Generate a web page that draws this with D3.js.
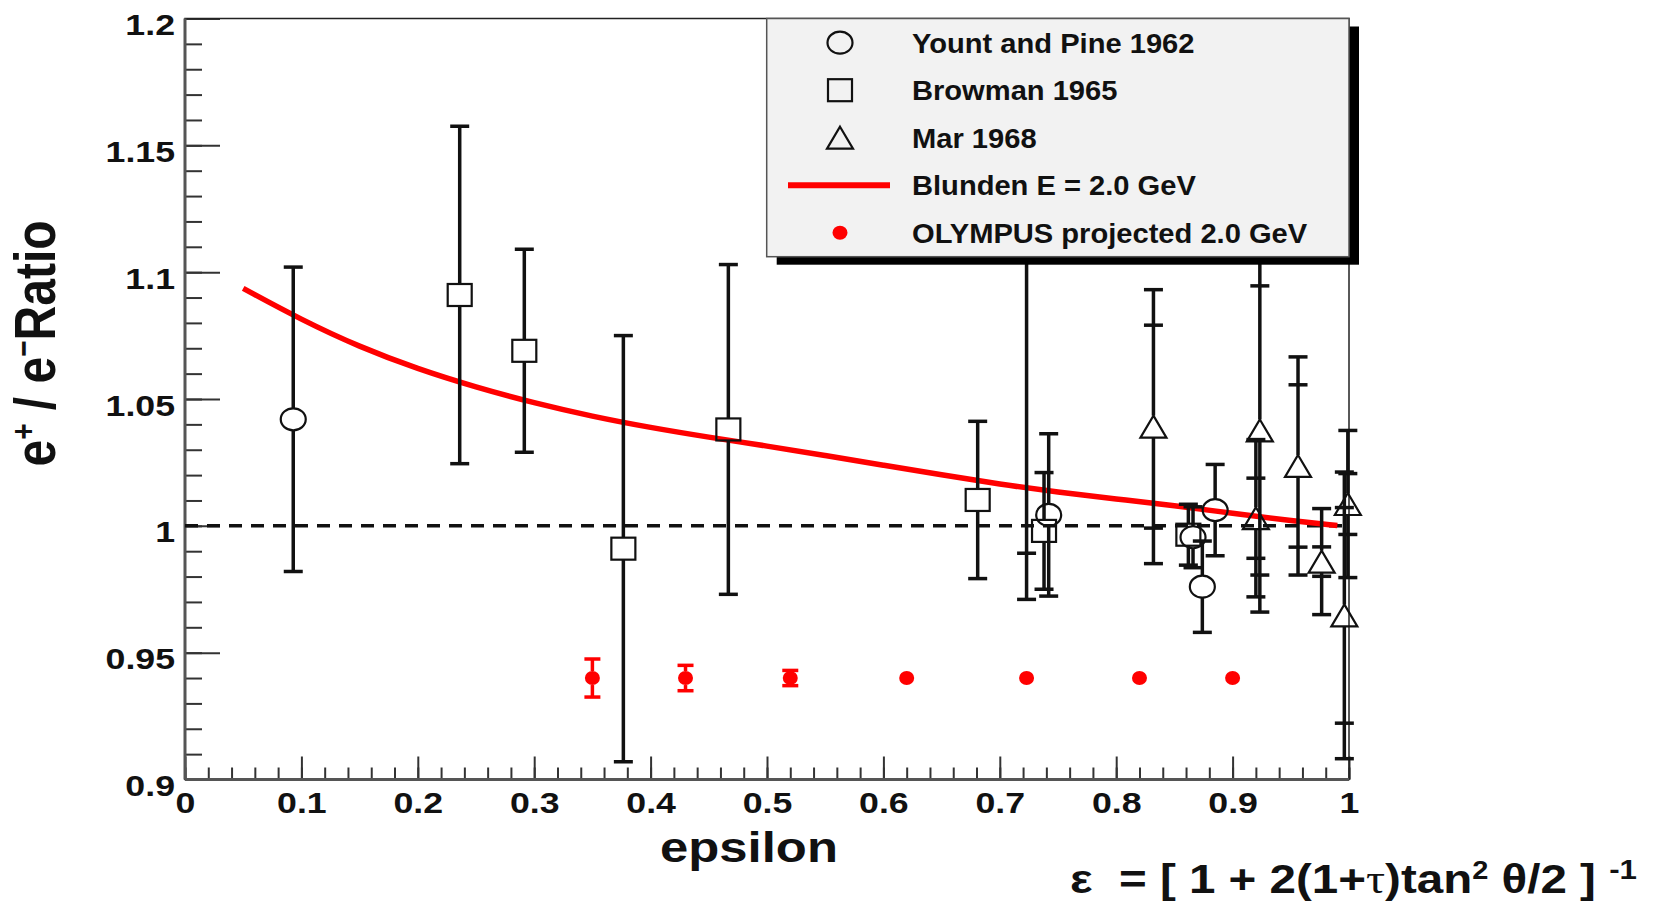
<!DOCTYPE html>
<html>
<head>
<meta charset="utf-8">
<script src="https://cdn.jsdelivr.net/npm/d3@7"></script>
<style>
  body { margin: 0; background: #fff; }
  text { font-family: "Liberation Sans", Arial, Helvetica, sans-serif; font-weight: bold; fill: #111; }
</style>
</head>
<body>
<div id="chart"></div>
<script>
// Yount and Pine 1962 (open circles)
const yountEps = [0.093, 0.742, 0.866, 0.874, 0.885];
const yountVal = [1.042, 1.0043, 0.9955, 0.976, 1.0062];
const yountErr = [0.060, 0.032, 0.012, 0.018, 0.018];

// Browman 1965 (open squares)
const browmanEps = [0.236, 0.2915, 0.3766, 0.4668, 0.681, 0.738, 0.862];
const browmanVal = [1.091, 1.069, 0.991, 1.038, 1.0102, 0.998, 0.9965];
const browmanErr = [0.0665, 0.040, 0.084, 0.065, 0.031, 0.023, 0.012];

// Mar 1968 (open triangles), inner (stat) and outer (total) errors
const marEps = [0.723, 0.832, 0.9234, 0.920, 0.9562, 0.9765, 0.999, 0.996];
const marVal = [1.22, 1.0391, 1.0376, 1.003, 1.0236, 0.9859, 1.0086, 0.9647];
const marErrIn = [0.2308, 0.040, 0.057, 0.0158, 0.032, 0.0058, 0.012, 0.0425];
const marErrOut = [0.249, 0.054, 0.0716, 0.031, 0.043, 0.0209, 0.029, 0.0565];

// Blunden E = 2.0 GeV curve
const blundenEps = [0.05, 0.1, 0.15, 0.2, 0.25, 0.3, 0.35, 0.4, 0.45, 0.5, 0.55, 0.6, 0.65, 0.7, 0.75, 0.8, 0.85, 0.9, 0.95, 0.99];
const blundenVal = [1.0936, 1.0812, 1.0705, 1.0618, 1.0546, 1.0484, 1.0431, 1.0387, 1.0349, 1.0315, 1.0277, 1.0239, 1.0201, 1.0164, 1.0133, 1.0106, 1.008, 1.0049, 1.002, 1.0001];

// OLYMPUS projected 2.0 GeV
const olympusEps = [0.35, 0.43, 0.52, 0.62, 0.723, 0.82, 0.90];
const olympusVal = [0.94, 0.94, 0.94, 0.94, 0.94, 0.94, 0.94];
const olympusErr = [0.0075, 0.005, 0.003, 0.002, 0.002, 0.002, 0.002];

// Ticks and labels
const yMajorTicks = [0.9, 0.95, 1.0, 1.05, 1.1, 1.15, 1.2];
const yMinorTicks = d3.range(0, 31).map(i => 0.9 + i * 0.01);
const xMajorTicks = [0, 0.1, 0.2, 0.3, 0.4, 0.5, 0.6, 0.7, 0.8, 0.9, 1.0];
const xMinorTicks = d3.range(0, 51).map(i => i * 0.02);
const legendLabels = ["Yount and Pine 1962", "Browman 1965", "Mar 1968", "Blunden E = 2.0 GeV", "OLYMPUS projected 2.0 GeV"];

const W = 1658, H = 902;
const margin = { top: 18.5, right: 309, bottom: 122.5, left: 185 };
const width = W - margin.left - margin.right;
const height = H - margin.top - margin.bottom;
const SX = 1.19; // the figure is stretched horizontally

const svg = d3.select("#chart").append("svg")
    .attr("width", W)
    .attr("height", H);

const chart = svg.append("g")
    .attr("transform", `translate(${margin.left},${margin.top})`);

const x = d3.scaleLinear().domain([0, 1]).range([0, width]);
const y = d3.scaleLinear().domain([0.9, 1.2]).range([height, 0]);

svg.append("defs").append("clipPath").attr("id", "clip")
    .append("rect")
    .attr("x", -30).attr("y", 0)
    .attr("width", width + 60).attr("height", height);

// Y axis: minor then major ticks (pointing inward)
chart.append("g")
    .call(d3.axisLeft(y).tickValues(yMinorTicks).tickSize(-17).tickFormat(""))
    .call(g => g.select(".domain").remove())
    .selectAll("line").attr("stroke", "#333").attr("stroke-width", 2);

const yAxis = chart.append("g")
    .call(d3.axisLeft(y).tickValues(yMajorTicks).tickSize(-35).tickPadding(10)
        .tickFormat(d => String(+d.toFixed(2))));
yAxis.select(".domain").remove();
yAxis.selectAll("line").attr("stroke", "#333").attr("stroke-width", 2);
yAxis.selectAll("text")
    .attr("x", -10 / SX)
    .attr("dy", null)
    .attr("y", 16)
    .attr("transform", `scale(${SX},1)`)
    .style("font-size", "30px")
    .style("font-family", "'Liberation Sans', Arial, sans-serif")
    .style("font-weight", "bold")
    .attr("fill", "#111");

// X axis
chart.append("g")
    .attr("transform", `translate(0,${height})`)
    .call(d3.axisBottom(x).tickValues(xMinorTicks).tickSize(-12).tickFormat(""))
    .call(g => g.select(".domain").remove())
    .selectAll("line").attr("stroke", "#333").attr("stroke-width", 2);

const xAxis = chart.append("g")
    .attr("transform", `translate(0,${height})`)
    .call(d3.axisBottom(x).tickValues(xMajorTicks).tickSize(-23)
        .tickFormat(d => String(+d.toFixed(1))));
xAxis.select(".domain").remove();
xAxis.selectAll("line").attr("stroke", "#333").attr("stroke-width", 2);
xAxis.selectAll("text")
    .attr("y", 34)
    .attr("dy", null)
    .attr("transform", `scale(${SX},1)`)
    .style("font-size", "30px")
    .style("font-family", "'Liberation Sans', Arial, sans-serif")
    .style("font-weight", "bold")
    .attr("fill", "#111");

// Frame
chart.append("rect")
    .attr("width", width).attr("height", height)
    .attr("fill", "none").attr("stroke", "#222").attr("stroke-width", 1.5);
chart.append("line")
    .attr("x1", 0).attr("x2", 0).attr("y1", 0).attr("y2", height)
    .attr("stroke", "#555").attr("stroke-width", 3);
chart.append("line")
    .attr("x1", 0).attr("x2", width).attr("y1", height).attr("y2", height)
    .attr("stroke", "#555").attr("stroke-width", 3);

const plot = chart.append("g").attr("clip-path", "url(#clip)");

// Dashed reference line at 1
plot.append("line")
    .attr("x1", x(0)).attr("x2", x(1))
    .attr("y1", y(1)).attr("y2", y(1))
    .attr("stroke", "#111").attr("stroke-width", 3.5)
    .attr("stroke-dasharray", "13,9");

// Blunden curve
const blunden = blundenEps.map((e, i) => [e, blundenVal[i]]);
plot.append("path")
    .datum(blunden)
    .attr("fill", "none")
    .attr("stroke", "#ff0000")
    .attr("stroke-width", 5.5)
    .attr("d", d3.line().x(d => x(d[0])).y(d => y(d[1])).curve(d3.curveBasis));

// Markers
function marker(g, type, cx, cy) {
    if (type === "circle") {
        g.append("ellipse").attr("cx", cx).attr("cy", cy).attr("rx", 12.5).attr("ry", 11)
            .attr("fill", "none").attr("stroke", "#111").attr("stroke-width", 2.2);
    } else if (type === "square") {
        g.append("rect").attr("x", cx - 12).attr("y", cy - 11).attr("width", 24).attr("height", 22)
            .attr("fill", "none").attr("stroke", "#111").attr("stroke-width", 2.2);
    } else if (type === "triangle") {
        g.append("path")
            .attr("d", `M${cx},${cy - 11}L${cx + 13},${cy + 11}L${cx - 13},${cy + 11}Z`)
            .attr("fill", "none").attr("stroke", "#111").attr("stroke-width", 2.2);
    } else if (type === "dot") {
        g.append("ellipse").attr("cx", cx).attr("cy", cy).attr("rx", 7.5).attr("ry", 7)
            .attr("fill", "#ff0000");
    }
}

// Error bars: line outside the marker, cap at every error level
function errorBar(g, e, v, errs, color, gap, capHalf) {
    const cx = x(e), cy = y(v);
    const maxErr = d3.max(errs);
    const top = y(v + maxErr), bot = y(v - maxErr);
    if (cy - top > gap) {
        g.append("line").attr("x1", cx).attr("x2", cx).attr("y1", cy - gap).attr("y2", top)
            .attr("stroke", color).attr("stroke-width", 3.5);
    }
    if (bot - cy > gap) {
        g.append("line").attr("x1", cx).attr("x2", cx).attr("y1", cy + gap).attr("y2", bot)
            .attr("stroke", color).attr("stroke-width", 3.5);
    }
    errs.forEach(er => {
        const d = y(v - er) - cy;
        if (d > gap) {
            [cy - d, cy + d].forEach(yy => {
                g.append("line").attr("x1", cx - capHalf).attr("x2", cx + capHalf)
                    .attr("y1", yy).attr("y2", yy)
                    .attr("stroke", color).attr("stroke-width", 3.5);
            });
        }
    });
}

const blackGroup = plot.append("g");
browmanEps.forEach((e, i) => {
    errorBar(blackGroup, e, browmanVal[i], [browmanErr[i]], "#111", 11, 9.5);
    marker(blackGroup, "square", x(e), y(browmanVal[i]));
});
yountEps.forEach((e, i) => {
    errorBar(blackGroup, e, yountVal[i], [yountErr[i]], "#111", 11, 9.5);
    marker(blackGroup, "circle", x(e), y(yountVal[i]));
});
marEps.forEach((e, i) => {
    errorBar(blackGroup, e, marVal[i], [marErrIn[i], marErrOut[i]], "#111", 11, 9.5);
    marker(blackGroup, "triangle", x(e), y(marVal[i]));
});

const redGroup = plot.append("g");
olympusEps.forEach((e, i) => {
    errorBar(redGroup, e, olympusVal[i], [olympusErr[i]], "#ff0000", 7, 8);
    marker(redGroup, "dot", x(e), y(olympusVal[i]));
});

// Legend
const lg = { x: 766.7, y: 18.5, w: 582.3, h: 238.2 };
svg.append("rect")
    .attr("x", lg.x + 10).attr("y", lg.y + 8)
    .attr("width", lg.w).attr("height", lg.h)
    .attr("fill", "#000");
svg.append("rect")
    .attr("x", lg.x).attr("y", lg.y)
    .attr("width", lg.w).attr("height", lg.h)
    .attr("fill", "#f2f2f2").attr("stroke", "#555").attr("stroke-width", 1.5);

const legendTypes = ["circle", "square", "triangle", "line", "dot"];
legendLabels.forEach((label, i) => {
    const ry = 42.7 + i * 47.5;
    const t = legendTypes[i];
    if (t === "line") {
        svg.append("line").attr("x1", 788).attr("x2", 890).attr("y1", ry).attr("y2", ry)
            .attr("stroke", "#ff0000").attr("stroke-width", 6);
    } else {
        marker(svg, t, 840, ry);
    }
    svg.append("text")
        .attr("transform", `translate(912,${ry}) scale(1.04,1)`)
        .attr("dy", "0.36em")
        .style("font-size", "28px")
        .text(label);
});

// Axis titles
svg.append("text")
    .attr("transform", `translate(749,861.7) scale(1.21,1)`)
    .attr("text-anchor", "middle")
    .style("font-size", "42px")
    .text("epsilon");

const yTitle = svg.append("text")
    .attr("transform", `translate(55,343.5) scale(${SX},1) rotate(-90)`)
    .attr("text-anchor", "middle")
    .style("font-size", "48px");
yTitle.append("tspan").text("e");
yTitle.append("tspan").attr("dy", -17).style("font-size", "28px").text("+");
yTitle.append("tspan").attr("dy", 17).text(" / e");
yTitle.append("tspan").attr("dy", -17).style("font-size", "28px").text("\u2212");
yTitle.append("tspan").attr("dy", 17).text("Ratio");

// Definition of epsilon
const formula = svg.append("text")
    .attr("x", 1070).attr("y", 893)
    .attr("textLength", 567)
    .attr("lengthAdjust", "spacingAndGlyphs")
    .style("font-size", "41px")
    .style("white-space", "pre");
formula.append("tspan").text("\u03b5  = [ 1 + 2(1+");
formula.append("tspan").style("font-family", "'Liberation Serif', 'Times New Roman', serif")
    .style("font-weight", "normal").text("\u03c4");
formula.append("tspan").text(")tan");
formula.append("tspan").attr("dy", -14).style("font-size", "25px").text("2");
formula.append("tspan").attr("dy", 14).text(" \u03b8/2 ] ");
formula.append("tspan").attr("dy", -14).style("font-size", "27px").text("-1");
</script>
</body>
</html>
